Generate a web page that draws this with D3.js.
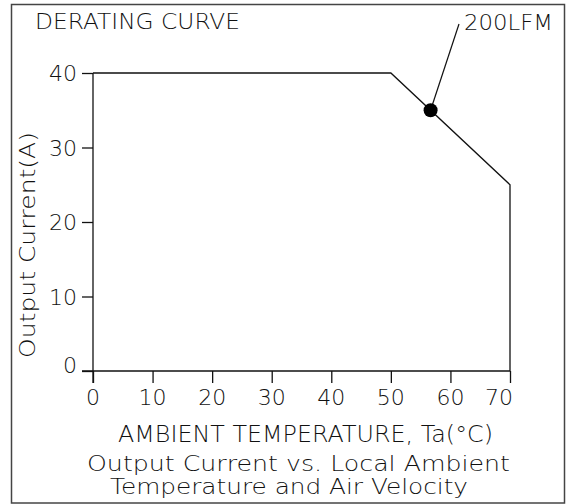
<!DOCTYPE html>
<html>
<head>
<meta charset="utf-8">
<script src="https://cdn.jsdelivr.net/npm/d3@7"></script>
<style>
  html, body { margin: 0; padding: 0; background: #fff; }
  svg { display: block; }
  text { font-family: "DejaVu Sans", sans-serif; font-weight: 200; fill: #111; }
</style>
</head>
<body>
<svg id="chart" width="567" height="504"></svg>
<script>
// Derating curve: output current vs. ambient temperature
const temperatureTicks = [0, 10, 20, 30, 40, 50, 60, 70];
const currentTicks = [0, 10, 20, 30, 40];
const curveTemps = [0, 50, 70, 70];
const curveCurrents = [40, 40, 25, 0];
const markerTemp = [56.67];
const markerCurrent = [35];
const markerLabel = ["200LFM"];

const titleText = "DERATING CURVE";
const xTitle = "AMBIENT TEMPERATURE, Ta(°C)";
const yTitle = "Output Current(A)";
const captionLines = ["Output Current vs. Local Ambient", "Temperature and Air Velocity"];

const svg = d3.select("#chart");
const W = 567, H = 504;

const x = d3.scaleLinear().domain([0, 70]).range([93, 510]);
const y = d3.scaleLinear().domain([0, 40]).range([371, 73]);

// frame
svg.append("rect")
  .attr("x", 11.5).attr("y", 4.5)
  .attr("width", 553).attr("height", 498.5)
  .attr("fill", "none").attr("stroke", "#444").attr("stroke-width", 1.5);

// x axis: line, ticks hanging below
const xAxis = d3.axisBottom(x).tickValues(temperatureTicks).tickSize(12).tickFormat("");
const gx = svg.append("g").attr("transform", `translate(0,${y(0)})`).call(xAxis);
gx.select(".domain").remove();
gx.selectAll(".tick line").attr("stroke", "#111").attr("stroke-width", 1.3);
svg.append("line")
  .attr("x1", x(0) - 11).attr("x2", x(70))
  .attr("y1", y(0)).attr("y2", y(0))
  .attr("stroke", "#111").attr("stroke-width", 1.3);

// y axis: line, ticks to the left
const yAxis = d3.axisLeft(y).tickValues(currentTicks).tickSize(11).tickFormat("");
const gy = svg.append("g").attr("transform", `translate(${x(0)},0)`).call(yAxis);
gy.select(".domain").remove();
gy.selectAll(".tick line").attr("stroke", "#111").attr("stroke-width", 1.3);
svg.append("line")
  .attr("x1", x(0)).attr("x2", x(0))
  .attr("y1", y(40)).attr("y2", y(0) + 12)
  .attr("stroke", "#111").attr("stroke-width", 1.3);

// tick labels
svg.selectAll(".xlab").data(temperatureTicks).join("text")
  .attr("class", "xlab")
  .attr("x", (d, i) => i === temperatureTicks.length - 1 ? x(d) + 3 : x(d))
  .attr("y", 405)
  .attr("text-anchor", (d, i) => i === temperatureTicks.length - 1 ? "end" : "middle")
  .attr("font-size", 22)
  .text(d => d);

svg.selectAll(".ylab").data(currentTicks).join("text")
  .attr("class", "ylab")
  .attr("x", 77)
  .attr("y", d => y(d) + (d === 0 ? 2 : 8))
  .attr("text-anchor", "end")
  .attr("font-size", 22)
  .text(d => d);

// derating curve
const pts = curveTemps.map((t, i) => [t, curveCurrents[i]]);
svg.append("path")
  .attr("d", d3.line().x(d => x(d[0])).y(d => y(d[1]))(pts))
  .attr("fill", "none").attr("stroke", "#111").attr("stroke-width", 1.3);

// marker with leader to its label
const mk = markerTemp.map((t, i) => ({ t, c: markerCurrent[i], label: markerLabel[i] }));
const labelX = 464, labelY = 30;
svg.selectAll(".leader").data(mk).join("line")
  .attr("x1", d => x(d.t)).attr("y1", d => y(d.c))
  .attr("x2", labelX - 5).attr("y2", labelY - 6)
  .attr("stroke", "#111").attr("stroke-width", 1.2);
svg.selectAll(".dot").data(mk).join("circle")
  .attr("cx", d => x(d.t)).attr("cy", d => y(d.c)).attr("r", 7)
  .attr("fill", "#000");
svg.selectAll(".mlabel").data(mk).join("text")
  .attr("x", labelX).attr("y", labelY)
  .attr("font-size", 22)
  .attr("textLength", 89).attr("lengthAdjust", "spacingAndGlyphs")
  .text(d => d.label);

// titles
svg.append("text").attr("x", 35).attr("y", 29).attr("font-size", 22)
  .attr("textLength", 205).attr("lengthAdjust", "spacingAndGlyphs").text(titleText);

svg.append("text").attr("x", 118).attr("y", 442).attr("font-size", 23)
  .attr("textLength", 375).attr("lengthAdjust", "spacingAndGlyphs").text(xTitle);

svg.append("text")
  .attr("transform", "translate(35,358) rotate(-90)")
  .attr("font-size", 21)
  .attr("textLength", 226).attr("lengthAdjust", "spacingAndGlyphs").text(yTitle);

const capX = [87, 110], capY = [471, 494], capLen = [423, 358];
captionLines.forEach((s, i) => {
  svg.append("text").attr("x", capX[i]).attr("y", capY[i]).attr("font-size", 22)
    .attr("textLength", capLen[i]).attr("lengthAdjust", "spacingAndGlyphs").text(s);
});
</script>
</body>
</html>
